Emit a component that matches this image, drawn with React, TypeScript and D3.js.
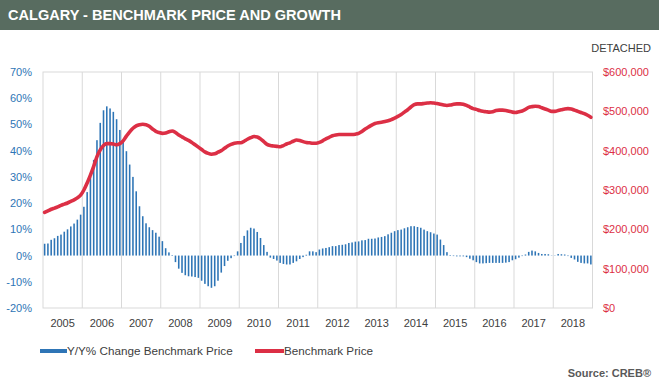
import React from 'react';
import * as d3 from 'd3';

const years = ['2005','2006','2007','2008','2009','2010','2011','2012','2013','2014','2015','2016','2017','2018'];

const yoyChange = [
  4.5, 4.6, 6.0, 6.6, 7.5, 8.0, 9.1, 10.0, 11.1, 12.2, 13.7, 15.6,
  18.6, 24.2, 30.0, 36.5, 44.0, 50.6, 55.4, 56.9, 56.1, 54.8, 52.0, 47.9,
  43.6, 39.8, 34.7, 30.0, 24.5, 18.8, 15.0, 12.3, 10.8, 9.7, 8.7, 7.2,
  5.5, 2.8, 1.2, 0.2, -2.5, -5.0, -6.6, -7.5, -7.9, -8.0, -8.2, -8.5,
  -9.6, -10.8, -11.7, -12.3, -11.7, -9.6, -6.5, -4.0, -2.0, -1.0, -0.2, 1.6,
  4.8, 7.5, 9.6, 10.6, 10.3, 9.0, 6.7, 4.0, 1.4, -0.8, -1.3, -1.9,
  -2.8, -3.2, -3.4, -3.4, -2.8, -2.2, -1.3, -0.6, 0.3, 1.6, 1.6, 1.3,
  2.3, 2.7, 2.9, 3.2, 3.6, 3.6, 4.0, 4.1, 4.3, 4.8, 5.0, 5.3,
  5.4, 5.8, 5.9, 6.4, 6.4, 6.5, 6.9, 7.1, 7.4, 8.1, 8.7, 9.3,
  9.7, 9.9, 10.4, 10.8, 11.2, 11.2, 10.9, 10.6, 9.9, 9.3, 8.9, 8.4,
  8.0, 6.1, 4.0, 1.3, 0.2, -0.2, -0.3, -0.3, -0.3, -0.6, -1.2, -1.8,
  -2.5, -3.0, -3.0, -2.9, -2.8, -2.8, -2.8, -2.8, -2.8, -2.7, -2.5, -1.8,
  -1.4, -0.8, -0.2, 0.4, 1.4, 1.9, 1.6, 1.0, 0.6, 0.6, 0.5, -0.1,
  0.1, 0.6, 0.5, 0.4, -0.2, -0.9, -1.5, -2.4, -2.8, -3.0, -3.0, -3.4,
];

const benchmarkPrice = [
  243000, 247000, 251000, 254000, 257000, 261000, 264000, 267000, 271000, 275000, 280000, 287000,
  300000, 318000, 338000, 360000, 385000, 402000, 413000, 418000, 418000, 417000, 415000, 418000,
  425000, 437000, 448000, 457000, 463000, 466000, 467000, 466000, 462000, 455000, 449000, 446000,
  444000, 445000, 448000, 450000, 446000, 440000, 435000, 430000, 426000, 421000, 415000, 409000,
  403000, 397000, 393000, 391000, 392000, 396000, 400000, 406000, 412000, 416000, 419000, 420000,
  420000, 424000, 429000, 433000, 436000, 435000, 430000, 423000, 416000, 413000, 412000, 411000,
  410000, 413000, 417000, 420000, 424000, 427000, 426000, 423000, 421000, 420000, 419000, 419000,
  421000, 425000, 430000, 434000, 438000, 440000, 441000, 441000, 441000, 441000, 441000, 442000,
  444000, 449000, 455000, 460000, 465000, 469000, 471000, 472000, 474000, 476000, 479000, 483000,
  487000, 492000, 498000, 504000, 511000, 517000, 519000, 519000, 520000, 521000, 522000, 521000,
  520000, 518000, 516000, 515000, 516000, 518000, 519000, 519000, 518000, 515000, 511000, 507000,
  505000, 502000, 500000, 499000, 498000, 499000, 502000, 503000, 503000, 502000, 500000, 498000,
  497000, 499000, 501000, 505000, 510000, 512000, 513000, 512000, 509000, 506000, 503000, 500000,
  500000, 502000, 504000, 506000, 507000, 506000, 503000, 500000, 497000, 494000, 490000, 485000,
];

const leftTicks = [-20, -10, 0, 10, 20, 30, 40, 50, 60, 70];
const rightTicks = [0, 100000, 200000, 300000, 400000, 500000, 600000];

const months = years.flatMap((y) => d3.range(12).map((m) => `${y}-${m + 1}`));

const W = 659, H = 383;
const L = 43, R = 592.5, T = 72, B = 308;
const FONT = '"Liberation Sans", Arial, sans-serif';
const BLUE = '#2e75b6';
const RED = '#dc2f45';

export default function App() {
  const xMonth = d3.scaleBand<string>().domain(months).range([L, R]).paddingInner(0.52).paddingOuter(0.26);
  const xYear = d3.scaleBand<string>().domain(years).range([L, R]);
  const yLeft = d3.scaleLinear().domain([-20, 70]).range([B, T]);
  const yRight = d3.scaleLinear().domain([0, 600000]).range([B, T]);

  const line = d3
    .line<number>()
    .x((_, i) => (xMonth(months[i]) as number) + xMonth.bandwidth() / 2)
    .y((d) => yRight(d))
    .curve(d3.curveMonotoneX);

  const fmtMoney = d3.format('$,');

  return (
    <svg width={W} height={H} style={{ position: 'absolute', left: 0, top: 0, background: '#fff' }} fontFamily={FONT}>
      <rect x={0} y={0} width={W} height={H} fill="#fff" />
      <rect x={0} y={0} width={W} height={30} fill="#586c60" />
      <text x={8} y={20} fill="#fff" fontWeight="bold" fontSize={15} textLength={333} lengthAdjust="spacingAndGlyphs">
        CALGARY - BENCHMARK PRICE AND GROWTH
      </text>
      <text x={651} y={52} fill="#404040" fontSize={11} textAnchor="end">DETACHED</text>

      {/* plot frame and year grid */}
      <rect x={L} y={T} width={R - L} height={B - T} fill="none" stroke="#d9d9d9" strokeWidth={1} />
      {years.slice(1).map((y) => (
        <line key={y} x1={xYear(y) as number} x2={xYear(y) as number} y1={T} y2={B} stroke="#d9d9d9" strokeWidth={1} />
      ))}

      {/* bars */}
      {yoyChange.map((v, i) => (
        <rect
          key={i}
          x={xMonth(months[i]) as number}
          width={xMonth.bandwidth()}
          y={Math.min(yLeft(v), yLeft(0))}
          height={Math.abs(yLeft(v) - yLeft(0))}
          fill={BLUE}
        />
      ))}

      {/* price line */}
      <path d={line(benchmarkPrice) || ''} fill="none" stroke={RED} strokeWidth={3.6} strokeLinejoin="round" strokeLinecap="round" />

      {/* left axis */}
      {leftTicks.map((t) => (
        <text key={t} x={32} y={yLeft(t) + 4} fill="#2e75b6" fontSize={11} textAnchor="end">{`${t}%`}</text>
      ))}
      {/* right axis */}
      {rightTicks.map((t) => (
        <text key={t} x={603} y={yRight(t) + 4} fill={RED} fontSize={11} textAnchor="start">{fmtMoney(t)}</text>
      ))}
      {/* x axis */}
      {years.map((y) => (
        <text key={y} x={(xYear(y) as number) + xYear.bandwidth() / 2} y={327} fill="#404040" fontSize={11} textAnchor="middle">{y}</text>
      ))}

      {/* legend */}
      <line x1={40} x2={67} y1={351} y2={351} stroke={BLUE} strokeWidth={4} />
      <text x={67} y={355} fill="#404040" fontSize={11.7}>Y/Y% Change Benchmark Price</text>
      <line x1={255} x2={284} y1={351} y2={351} stroke={RED} strokeWidth={4} />
      <text x={284} y={355} fill="#404040" fontSize={11.7}>Benchmark Price</text>

      <text x={651} y={377} fill="#595959" fontSize={11} fontWeight="bold" textAnchor="end">Source: CREB®</text>
    </svg>
  );
}
